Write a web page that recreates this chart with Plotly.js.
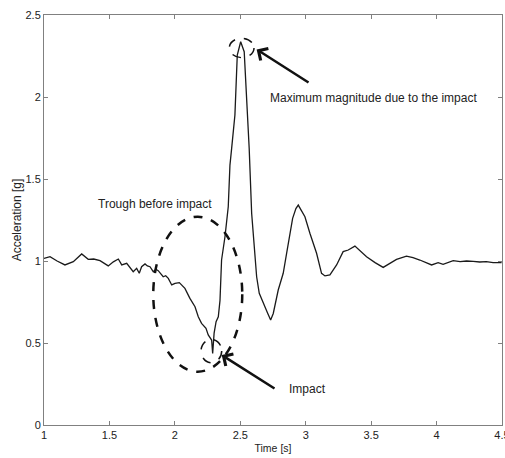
<!DOCTYPE html>
<html><head><meta charset="utf-8">
<script src="https://cdn.plot.ly/plotly-3.0.1.min.js"></script>
<style>html,body{margin:0;padding:0;background:#fff}#chart{width:505px;height:458px}</style>
</head><body><div id="chart"></div>
<script>
const timeS = [1.000,1.046,1.10,1.16,1.224,1.288,1.338,1.38,1.428,1.491,1.53,1.568,1.594,1.632,1.682,1.708,1.728,1.746,1.772,1.79,1.81,1.835,1.855,1.873,1.89,1.911,1.93,1.95,1.976,2.001,2.034,2.055,2.077,2.115,2.154,2.179,2.204,2.238,2.255,2.281,2.289,2.30,2.315,2.332,2.345,2.357,2.383,2.408,2.421,2.434,2.454,2.459,2.477,2.503,2.530,2.549,2.568,2.587,2.599,2.612,2.625,2.645,2.675,2.688,2.71,2.732,2.752,2.79,2.803,2.828,2.854,2.90,2.925,2.943,2.965,2.994,3.032,3.083,3.121,3.147,3.185,3.236,3.286,3.325,3.376,3.42,3.465,3.53,3.592,3.694,3.77,3.82,3.872,3.962,4.012,4.05,4.127,4.18,4.229,4.28,4.33,4.38,4.432,4.497];
const accelG = [1.016,1.026,1.000,0.976,0.996,1.043,1.010,1.012,1.002,0.970,0.995,1.012,0.976,0.986,0.935,0.955,0.925,0.965,0.982,0.970,0.965,0.935,0.950,0.941,0.925,0.904,0.910,0.894,0.854,0.864,0.868,0.850,0.833,0.772,0.721,0.660,0.620,0.589,0.549,0.518,0.437,0.560,0.630,0.660,0.760,1.006,1.148,1.331,1.585,1.687,1.850,1.890,2.256,2.337,2.276,1.990,1.687,1.290,1.169,0.986,0.904,0.803,0.742,0.721,0.680,0.640,0.680,0.823,0.854,0.925,1.047,1.260,1.320,1.341,1.310,1.270,1.169,1.047,0.925,0.909,0.915,0.976,1.057,1.067,1.091,1.060,1.026,0.990,0.961,1.010,1.030,1.020,1.006,0.976,0.990,0.980,1.002,0.996,1.000,0.998,0.994,0.996,0.990,0.990];

const xTicks = [1,1.5,2,2.5,3,3.5,4,4.5];
const yTicks = [0,0.5,1,1.5,2,2.5];

const font = "Liberation Sans, Arial, sans-serif";
const trace = {x: timeS, y: accelG, type: 'scatter', mode: 'lines',
  line: {color: '#1a1a1a', width: 1.3, shape: 'linear'}, hoverinfo: 'skip'};

const dashLine = {color: '#111', width: 2.5, dash: 'dash'};
const smallDash = {color: '#111', width: 1.5, dash: 'dash'};

const layout = {
  width: 505, height: 458,
  margin: {l: 44, r: 3, t: 15, b: 33},
  paper_bgcolor: '#fff', plot_bgcolor: '#fff',
  showlegend: false,
  font: {family: font, size: 11, color: '#222'},
  xaxis: {range: [1, 4.5], tickvals: xTicks, ticktext: xTicks.map(String),
    ticks: 'inside', ticklen: 4, tickcolor: '#808080', showgrid: false, zeroline: false,
    showline: true, linecolor: '#808080', linewidth: 1, mirror: 'ticks',
    ticklabeloverflow: 'allow',
    tickfont: {family: font, size: 11, color: '#222'},
    title: {text: 'Time [s]', font: {family: font, size: 10.5, color: '#222'}, standoff: 4}},
  yaxis: {range: [0, 2.5], tickvals: yTicks, ticktext: yTicks.map(String),
    ticks: 'inside', ticklen: 4, tickcolor: '#808080', showgrid: false, zeroline: false,
    showline: true, linecolor: '#808080', linewidth: 1, mirror: 'ticks',
    tickfont: {family: font, size: 11, color: '#222'},
    title: {text: 'Acceleration [g]', font: {family: font, size: 12, color: '#222'}, standoff: 1}},
  shapes: [
    {type: 'circle', xref: 'x', yref: 'y', x0: 1.835, x1: 2.515, y0: 0.325, y1: 1.27, line: dashLine},
    {type: 'circle', xref: 'x', yref: 'y', x0: 2.20, x1: 2.358, y0: 0.38, y1: 0.522, line: smallDash},
    {type: 'circle', xref: 'x', yref: 'y', x0: 2.416, x1: 2.605, y0: 2.24, y1: 2.358, line: smallDash}
  ],
  annotations: [
    {x: 2.625, y: 2.29, ax: 3.033, ay: 2.083, xref: 'x', yref: 'y', axref: 'x', ayref: 'y',
      showarrow: true, arrowhead: 4, arrowsize: 1.1, arrowwidth: 2.5, arrowcolor: '#111', text: ''},
    {x: 2.358, y: 0.427, ax: 2.773, ay: 0.217, xref: 'x', yref: 'y', axref: 'x', ayref: 'y',
      showarrow: true, arrowhead: 4, arrowsize: 1.1, arrowwidth: 2.5, arrowcolor: '#111', text: ''},
    {x: 2.714, y: 1.996, xref: 'x', yref: 'y', xanchor: 'left', yanchor: 'middle', showarrow: false,
      text: 'Maximum magnitude due to the impact', font: {family: font, size: 12, color: '#222'}},
    {x: 1.395, y: 1.348, xref: 'x', yref: 'y', xanchor: 'left', yanchor: 'middle', showarrow: false,
      text: 'Trough before impact', font: {family: font, size: 12, color: '#222'}},
    {x: 2.854, y: 0.217, xref: 'x', yref: 'y', xanchor: 'left', yanchor: 'middle', showarrow: false,
      text: 'Impact', font: {family: font, size: 12, color: '#222'}}
  ]
};
Plotly.newPlot('chart', [trace], layout, {staticPlot: true, displayModeBar: false});
</script></body></html>
